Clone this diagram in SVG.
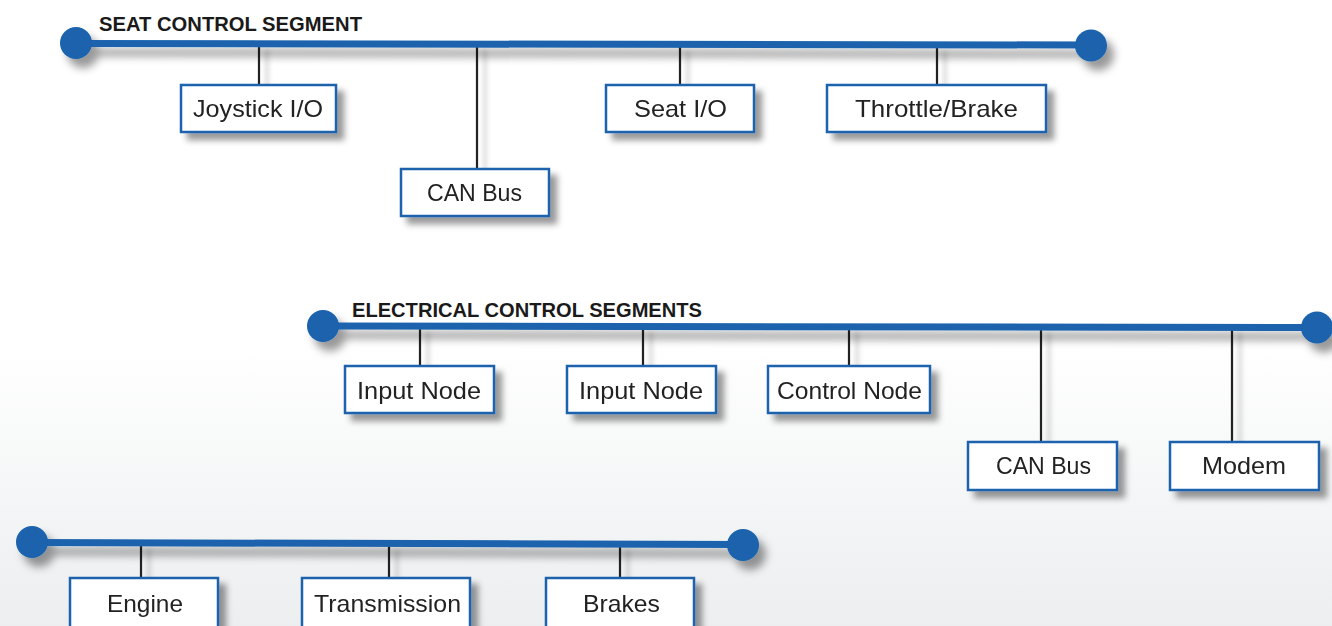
<svg xmlns="http://www.w3.org/2000/svg" width="1332" height="626" viewBox="0 0 1332 626">
<defs>
<linearGradient id="bg" x1="0" y1="0" x2="0" y2="1">
<stop offset="0.55" stop-color="#ffffff"/>
<stop offset="1" stop-color="#eceeef"/>
</linearGradient>
<filter id="sh" x="-20%" y="-40%" width="140%" height="180%">
<feDropShadow dx="7" dy="7" stdDeviation="3" flood-color="#000" flood-opacity="0.4"/>
</filter>
<filter id="shb" x="-10%" y="-100%" width="120%" height="300%">
<feDropShadow dx="7" dy="9" stdDeviation="4" flood-color="#000" flood-opacity="0.4"/>
</filter>
<filter id="shl" x="-20%" y="-20%" width="140%" height="140%">
<feDropShadow dx="8" dy="6" stdDeviation="2.5" flood-color="#000" flood-opacity="0.25"/>
</filter>
</defs>
<style>
.bus{stroke:#1a62ad;stroke-width:7;fill:none}
.end{fill:#1a62ad}
.conn{stroke:#222;stroke-width:2.2}
.box{fill:#fff;stroke:#1a62ad;stroke-width:2.5}
.lbl{font-family:"Liberation Sans",Arial,sans-serif;font-size:24px;fill:#222;text-anchor:middle}
.ttl{font-family:"Liberation Sans",Arial,sans-serif;font-size:21px;font-weight:bold;fill:#1a1a1a}
</style>
<rect width="1332" height="626" fill="url(#bg)"/>

<g id="connectors" filter="url(#shl)">
<line class="conn" x1="259" y1="44" x2="259" y2="85"/>
<line class="conn" x1="477" y1="44" x2="477" y2="169"/>
<line class="conn" x1="680" y1="45" x2="680" y2="85"/>
<line class="conn" x1="937" y1="45" x2="937" y2="85"/>
<line class="conn" x1="420" y1="326" x2="420" y2="366"/>
<line class="conn" x1="643" y1="326" x2="643" y2="366"/>
<line class="conn" x1="849" y1="326" x2="849" y2="366"/>
<line class="conn" x1="1041" y1="327" x2="1041" y2="442"/>
<line class="conn" x1="1232" y1="327" x2="1232" y2="442"/>
<line class="conn" x1="141" y1="543" x2="141" y2="578"/>
<line class="conn" x1="389" y1="544" x2="389" y2="578"/>
<line class="conn" x1="620" y1="544" x2="620" y2="578"/>
</g>

<g id="seat-bus" filter="url(#shb)">
<line class="bus" x1="76" y1="43.5" x2="1091" y2="45"/>
<circle class="end" cx="76" cy="43" r="16"/>
<circle class="end" cx="1091" cy="45.5" r="16"/>
</g>
<text class="ttl" x="99" y="31" textLength="263" lengthAdjust="spacingAndGlyphs">SEAT CONTROL SEGMENT</text>

<g id="elec-bus" filter="url(#shb)">
<line class="bus" x1="323" y1="326" x2="1317" y2="327.5"/>
<circle class="end" cx="323" cy="326" r="16"/>
<circle class="end" cx="1317" cy="327.5" r="16"/>
</g>
<text class="ttl" x="352" y="317" textLength="350" lengthAdjust="spacingAndGlyphs">ELECTRICAL CONTROL SEGMENTS</text>

<g id="drive-bus" filter="url(#shb)">
<line class="bus" x1="32" y1="542.5" x2="743" y2="544.5"/>
<circle class="end" cx="32" cy="542" r="16"/>
<circle class="end" cx="743" cy="545" r="16"/>
</g>

<g id="joystick-io" filter="url(#sh)">
<rect class="box" x="181" y="85" width="155" height="47"/>
<text class="lbl" x="258" y="117" textLength="130" lengthAdjust="spacingAndGlyphs">Joystick I/O</text>
</g>
<g id="can-bus-seat" filter="url(#sh)">
<rect class="box" x="401" y="169" width="148" height="47"/>
<text class="lbl" x="474.5" y="201" textLength="95" lengthAdjust="spacingAndGlyphs">CAN Bus</text>
</g>
<g id="seat-io" filter="url(#sh)">
<rect class="box" x="606" y="85" width="148" height="47"/>
<text class="lbl" x="680.5" y="117" textLength="93" lengthAdjust="spacingAndGlyphs">Seat I/O</text>
</g>
<g id="throttle-brake" filter="url(#sh)">
<rect class="box" x="827" y="85" width="219" height="47"/>
<text class="lbl" x="936.5" y="117" textLength="163" lengthAdjust="spacingAndGlyphs">Throttle/Brake</text>
</g>

<g id="input-node-1" filter="url(#sh)">
<rect class="box" x="345" y="366" width="149" height="47"/>
<text class="lbl" x="419" y="399" textLength="124" lengthAdjust="spacingAndGlyphs">Input Node</text>
</g>
<g id="input-node-2" filter="url(#sh)">
<rect class="box" x="567" y="366" width="149" height="47"/>
<text class="lbl" x="641" y="399" textLength="124" lengthAdjust="spacingAndGlyphs">Input Node</text>
</g>
<g id="control-node" filter="url(#sh)">
<rect class="box" x="768" y="366" width="162" height="47"/>
<text class="lbl" x="849.5" y="399" textLength="145" lengthAdjust="spacingAndGlyphs">Control Node</text>
</g>
<g id="can-bus-elec" filter="url(#sh)">
<rect class="box" x="968" y="442" width="149" height="48"/>
<text class="lbl" x="1043.5" y="474" textLength="95" lengthAdjust="spacingAndGlyphs">CAN Bus</text>
</g>
<g id="modem" filter="url(#sh)">
<rect class="box" x="1170" y="442" width="149" height="48"/>
<text class="lbl" x="1244" y="474" textLength="84" lengthAdjust="spacingAndGlyphs">Modem</text>
</g>

<g id="engine" filter="url(#sh)">
<rect class="box" x="70" y="578" width="148" height="60"/>
<text class="lbl" x="145" y="612" textLength="76" lengthAdjust="spacingAndGlyphs">Engine</text>
</g>
<g id="transmission" filter="url(#sh)">
<rect class="box" x="302" y="578" width="168" height="60"/>
<text class="lbl" x="387.5" y="612" textLength="147" lengthAdjust="spacingAndGlyphs">Transmission</text>
</g>
<g id="brakes" filter="url(#sh)">
<rect class="box" x="546" y="578" width="148" height="60"/>
<text class="lbl" x="621.5" y="612" textLength="77" lengthAdjust="spacingAndGlyphs">Brakes</text>
</g>
</svg>
